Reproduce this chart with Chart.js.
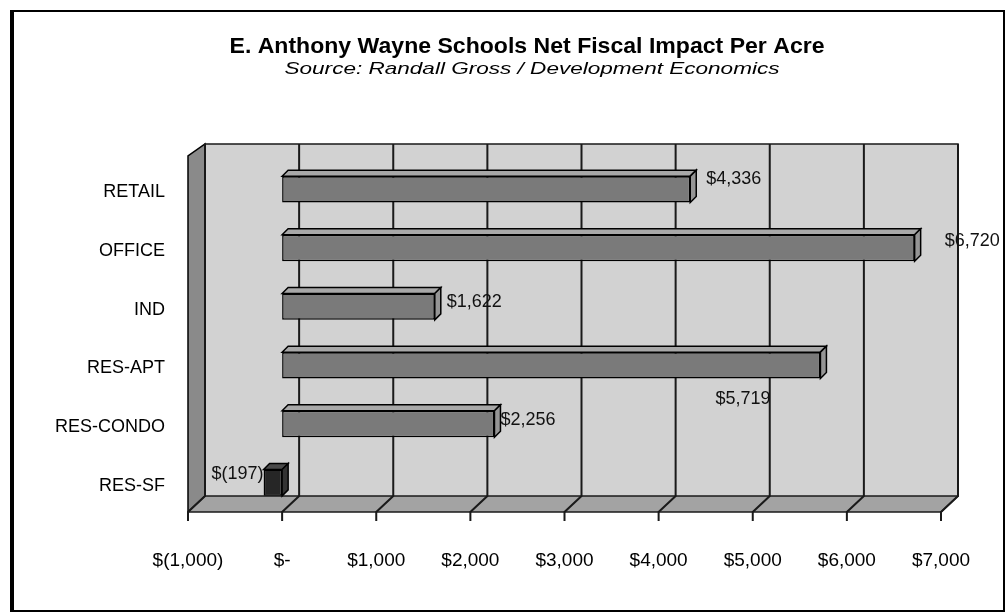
<!DOCTYPE html>
<html>
<head>
<meta charset="utf-8">
<script src="https://cdn.jsdelivr.net/npm/chart.js@4"></script>
<style>
  html, body { margin: 0; padding: 0; background: #fff; }
  #wrap { width: 1008px; height: 615px; position: relative; }
</style>
</head>
<body>
<div id="wrap"><canvas id="impact-chart" width="1008" height="615"></canvas></div>
<script>
const categories = ["RETAIL", "OFFICE", "IND", "RES-APT", "RES-CONDO", "RES-SF"];
const impactPerAcre = [4336, 6720, 1622, 5719, 2256, -197];
const valueLabels = ["$4,336", "$6,720", "$1,622", "$5,719", "$2,256", "$(197)"];
const tickValues = [-1000, 0, 1000, 2000, 3000, 4000, 5000, 6000, 7000];
const tickLabels = ["$(1,000)", "$-", "$1,000", "$2,000", "$3,000", "$4,000", "$5,000", "$6,000", "$7,000"];
const titleText = "E. Anthony Wayne Schools Net Fiscal Impact Per Acre";
const subtitleText = "Source: Randall Gross / Development Economics";

// where each value label sits relative to the end of its bar
const labelOffsets = [[16, -10], [30, -7], [12, -5], [-105, 34], [6, -4], [0, -9]];

const FONT = "'Liberation Sans', Arial, sans-serif";
const DX = 17, DY = 16, BAR_D = 6;

// text squeezed or stretched to the width it has in the scan
function fitText(ctx, text, font, cx, cy, width) {
  ctx.save();
  ctx.font = font;
  ctx.textAlign = "center";
  ctx.textBaseline = "middle";
  ctx.fillStyle = "#000";
  const k = width / ctx.measureText(text).width;
  ctx.translate(cx, cy);
  ctx.scale(k, 1);
  ctx.fillText(text, 0, 0);
  ctx.restore();
}

// fake 3d walls, floor and gridlines behind the bars
const wallsPlugin = {
  id: "walls",
  beforeDatasetsDraw(chart) {
    const { ctx, chartArea: a, scales } = chart;
    const x = scales.x;
    ctx.save();
    ctx.fillStyle = "#d2d2d2";
    ctx.fillRect(a.left + DX, a.top - DY, a.right - a.left, a.bottom - a.top);
    // floor
    ctx.fillStyle = "#a3a3a3";
    ctx.beginPath();
    ctx.moveTo(a.left, a.bottom);
    ctx.lineTo(a.right, a.bottom);
    ctx.lineTo(a.right + DX, a.bottom - DY);
    ctx.lineTo(a.left + DX, a.bottom - DY);
    ctx.closePath();
    ctx.fill();
    // left wall
    ctx.fillStyle = "#8a8a8a";
    ctx.beginPath();
    ctx.moveTo(a.left, a.bottom);
    ctx.lineTo(a.left + DX, a.bottom - DY);
    ctx.lineTo(a.left + DX, a.top - DY);
    ctx.lineTo(a.left, a.top - 4);
    ctx.closePath();
    ctx.fill();
    ctx.strokeStyle = "#000";
    ctx.lineWidth = 1.5;
    ctx.stroke();
    // gridlines
    ctx.strokeStyle = "#1a1a1a";
    ctx.lineWidth = 2;
    tickValues.forEach((v) => {
      const px = x.getPixelForValue(v);
      ctx.beginPath();
      ctx.moveTo(px + DX, a.top - DY);
      ctx.lineTo(px + DX, a.bottom - DY);
      ctx.lineTo(px, a.bottom);
      ctx.lineTo(px, a.bottom + 9);
      ctx.stroke();
    });
    ctx.lineWidth = 1.5;
    ctx.strokeRect(a.left + DX, a.top - DY, a.right - a.left, a.bottom - a.top);
    ctx.beginPath();
    ctx.moveTo(a.left, a.bottom);
    ctx.lineTo(a.right, a.bottom);
    ctx.lineTo(a.right + DX, a.bottom - DY);
    ctx.stroke();
    ctx.restore();
  },
  afterDatasetsDraw(chart) {
    const { ctx } = chart;
    const meta = chart.getDatasetMeta(0);
    ctx.save();
    meta.data.forEach((bar, i) => {
      const l = Math.min(bar.x, bar.base), r = Math.max(bar.x, bar.base);
      const t = bar.y - bar.height / 2, b = bar.y + bar.height / 2;
      const dark = impactPerAcre[i] < 0;
      ctx.strokeStyle = "#000";
      ctx.lineWidth = 1.5;
      ctx.fillStyle = dark ? "#4a4a4a" : "#a8a8a8";
      ctx.beginPath();
      ctx.moveTo(l, t);
      ctx.lineTo(r, t);
      ctx.lineTo(r + BAR_D, t - BAR_D);
      ctx.lineTo(l + BAR_D, t - BAR_D);
      ctx.closePath();
      ctx.fill();
      ctx.stroke();
      ctx.fillStyle = dark ? "#333" : "#959595";
      ctx.beginPath();
      ctx.moveTo(r, t);
      ctx.lineTo(r + BAR_D, t - BAR_D);
      ctx.lineTo(r + BAR_D, b - BAR_D);
      ctx.lineTo(r, b);
      ctx.closePath();
      ctx.fill();
      ctx.stroke();

      const [ox, oy] = labelOffsets[i];
      ctx.font = "18px " + FONT;
      ctx.fillStyle = "#111";
      ctx.textBaseline = "middle";
      ctx.textAlign = dark ? "right" : "left";
      ctx.fillText(valueLabels[i], bar.x + ox, bar.y + oy);
    });
    ctx.restore();
  },
  afterDraw(chart) {
    const { ctx } = chart;
    fitText(ctx, titleText, "bold 22px " + FONT, 527, 47, 595);
    fitText(ctx, subtitleText, "italic 17px " + FONT, 532, 69, 495);
    ctx.save();
    ctx.strokeStyle = "#000";
    ctx.lineWidth = 2;
    ctx.strokeRect(11, 11, 993, 600);
    ctx.lineWidth = 4;
    ctx.beginPath();
    ctx.moveTo(12, 10);
    ctx.lineTo(12, 612);
    ctx.stroke();
    ctx.restore();
  }
};

const ctx = document.getElementById("impact-chart").getContext("2d");
new Chart(ctx, {
  type: "bar",
  data: {
    labels: categories,
    datasets: [{
      data: impactPerAcre,
      backgroundColor: impactPerAcre.map((v) => (v < 0 ? "#262626" : "#7a7a7a")),
      borderColor: "#000",
      borderWidth: 1.5,
      borderSkipped: false,
      barPercentage: 0.45,
      categoryPercentage: 1
    }]
  },
  options: {
    indexAxis: "y",
    responsive: false,
    animation: false,
    layout: { padding: { left: 0, right: 67, top: 160, bottom: 0 } },
    plugins: {
      legend: { display: false },
      tooltip: { enabled: false },
      title: { display: false }
    },
    scales: {
      x: {
        type: "linear",
        min: -1000,
        max: 7000,
        afterFit: (s) => { s.height = 103; },
        afterBuildTicks: (s) => { s.ticks = tickValues.map((v) => ({ value: v })); },
        grid: { display: false },
        border: { display: false },
        ticks: {
          padding: 29,
          color: "#000",
          font: { family: FONT, size: 19 },
          callback: (v) => tickLabels[tickValues.indexOf(v)]
        }
      },
      y: {
        afterFit: (s) => { s.width = 188; },
        grid: { display: false },
        border: { display: false },
        ticks: {
          padding: 15,
          labelOffset: 3,
          color: "#000",
          font: { family: FONT, size: 18 }
        }
      }
    }
  },
  plugins: [wallsPlugin]
});
</script>
</body>
</html>
